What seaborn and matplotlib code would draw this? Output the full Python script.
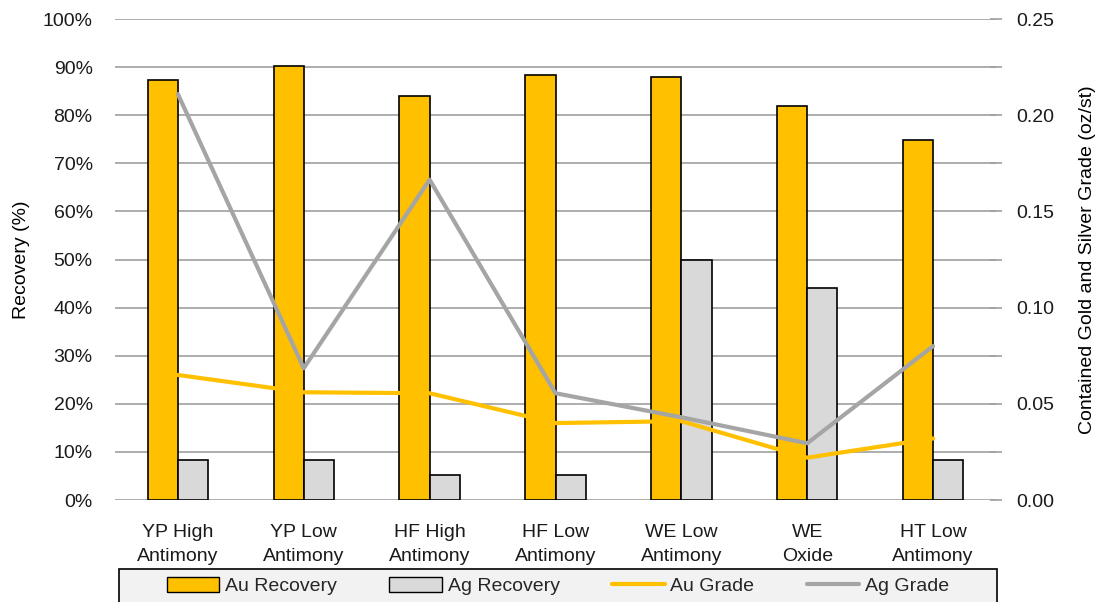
import numpy as np
import pandas as pd
import matplotlib
matplotlib.use("Agg")
import matplotlib.pyplot as plt
from matplotlib.patches import Patch, Rectangle
from matplotlib.lines import Line2D
import seaborn as sns

# values
samples = ["YP High\nAntimony", "YP Low\nAntimony", "HF High\nAntimony", "HF Low\nAntimony",
           "WE Low\nAntimony", "WE\nOxide", "HT Low\nAntimony"]
au_recovery = [87.3, 90.2, 84.0, 88.4, 87.9, 82.0, 74.8]
ag_recovery = [8.4, 8.4, 5.1, 5.1, 49.9, 44.1, 8.4]
au_grade = [0.065, 0.056, 0.0555, 0.040, 0.041, 0.022, 0.032]
ag_grade = [0.211, 0.0685, 0.1665, 0.0555, 0.043, 0.0295, 0.080]

gold = "#FFC000"
silver = "#D9D9D9"
line_grey = "#A5A5A5"
grid_grey = "#A0A0A0"

sns.set_style("white")
plt.rcParams["font.family"] = ["Liberation Sans Narrow", "Liberation Sans", "DejaVu Sans"]

df = pd.DataFrame({
    "sample": samples * 2,
    "recovery": au_recovery + ag_recovery,
    "series": ["Au Recovery"] * len(samples) + ["Ag Recovery"] * len(samples),
})

fig = plt.figure(figsize=(11, 6.02), dpi=100)
ax = fig.add_axes([0.1045, 0.1694, 0.801, 0.799])

sns.barplot(data=df, x="sample", y="recovery", hue="series", order=samples,
            hue_order=["Au Recovery", "Ag Recovery"], palette=[gold, silver],
            saturation=1, width=0.48, edgecolor="black", linewidth=1.2,
            legend=False, ax=ax)

ax.set_ylim(0, 100)
ax.set_xlim(-0.5, len(samples) - 0.5)
ax.set_yticks(np.arange(0, 101, 10))
ax.set_yticklabels([f"{v}%" for v in range(0, 101, 10)])
ax.yaxis.grid(True, color=grid_grey, linewidth=1.2)
ax.set_axisbelow(True)
for s in ax.spines.values():
    s.set_visible(False)
ax.tick_params(axis="y", length=0, labelsize=14, colors="#1a1a1a", pad=16)
ax.tick_params(axis="x", length=0, labelsize=14, colors="#1a1a1a", pad=17)
for lab in ax.get_xticklabels():
    lab.set_linespacing(1.6)
ax.set_xlabel("")
ax.set_ylabel("Recovery (%)", fontsize=14, labelpad=9, color="black")

ax2 = ax.twinx()
x = np.arange(len(samples))
sns.lineplot(x=x, y=au_grade, color=gold, linewidth=3, ax=ax2)
sns.lineplot(x=x, y=ag_grade, color=line_grey, linewidth=3, ax=ax2)
ax2.set_ylim(0, 0.25)
ax2.set_yticks(np.arange(0, 0.251, 0.05))
ax2.set_yticklabels([f"{v:.2f}" for v in np.arange(0, 0.251, 0.05)])
ax2.set_yticks(np.arange(0, 0.251, 0.025), minor=True)
for s in ax2.spines.values():
    s.set_visible(False)
ax2.tick_params(axis="y", which="both", length=9, direction="inout", color=grid_grey,
                width=1.2, labelsize=14, colors="#1a1a1a", pad=10)
ax2.tick_params(axis="y", which="minor", colors=grid_grey)
ax2.set_ylabel("Contained Gold and Silver Grade (oz/st)", fontsize=14, labelpad=18,
               color="black")
ax2.set_xlim(-0.5, len(samples) - 0.5)

# legend box across the bottom
box = Rectangle((119 / 1100, -0.02), 878 / 1100, 0.02 + 33 / 602, transform=fig.transFigure,
                facecolor="#F2F2F2", edgecolor="black", linewidth=1.2, zorder=0)
fig.patches.append(box)

handles = [
    Patch(facecolor=gold, edgecolor="black", label="Au Recovery"),
    Patch(facecolor=silver, edgecolor="black", label="Ag Recovery"),
    Line2D([0], [0], color=gold, linewidth=3, label="Au Grade"),
    Line2D([0], [0], color=line_grey, linewidth=3, label="Ag Grade"),
]
fig.legend(handles=handles, loc="center", ncol=4, bbox_to_anchor=(0.5073, 0.026),
           fontsize=14, frameon=False, handlelength=2.7, handleheight=0.8,
           handletextpad=0.3, columnspacing=2.7, borderaxespad=0)

fig.savefig("out.png", dpi=100)
